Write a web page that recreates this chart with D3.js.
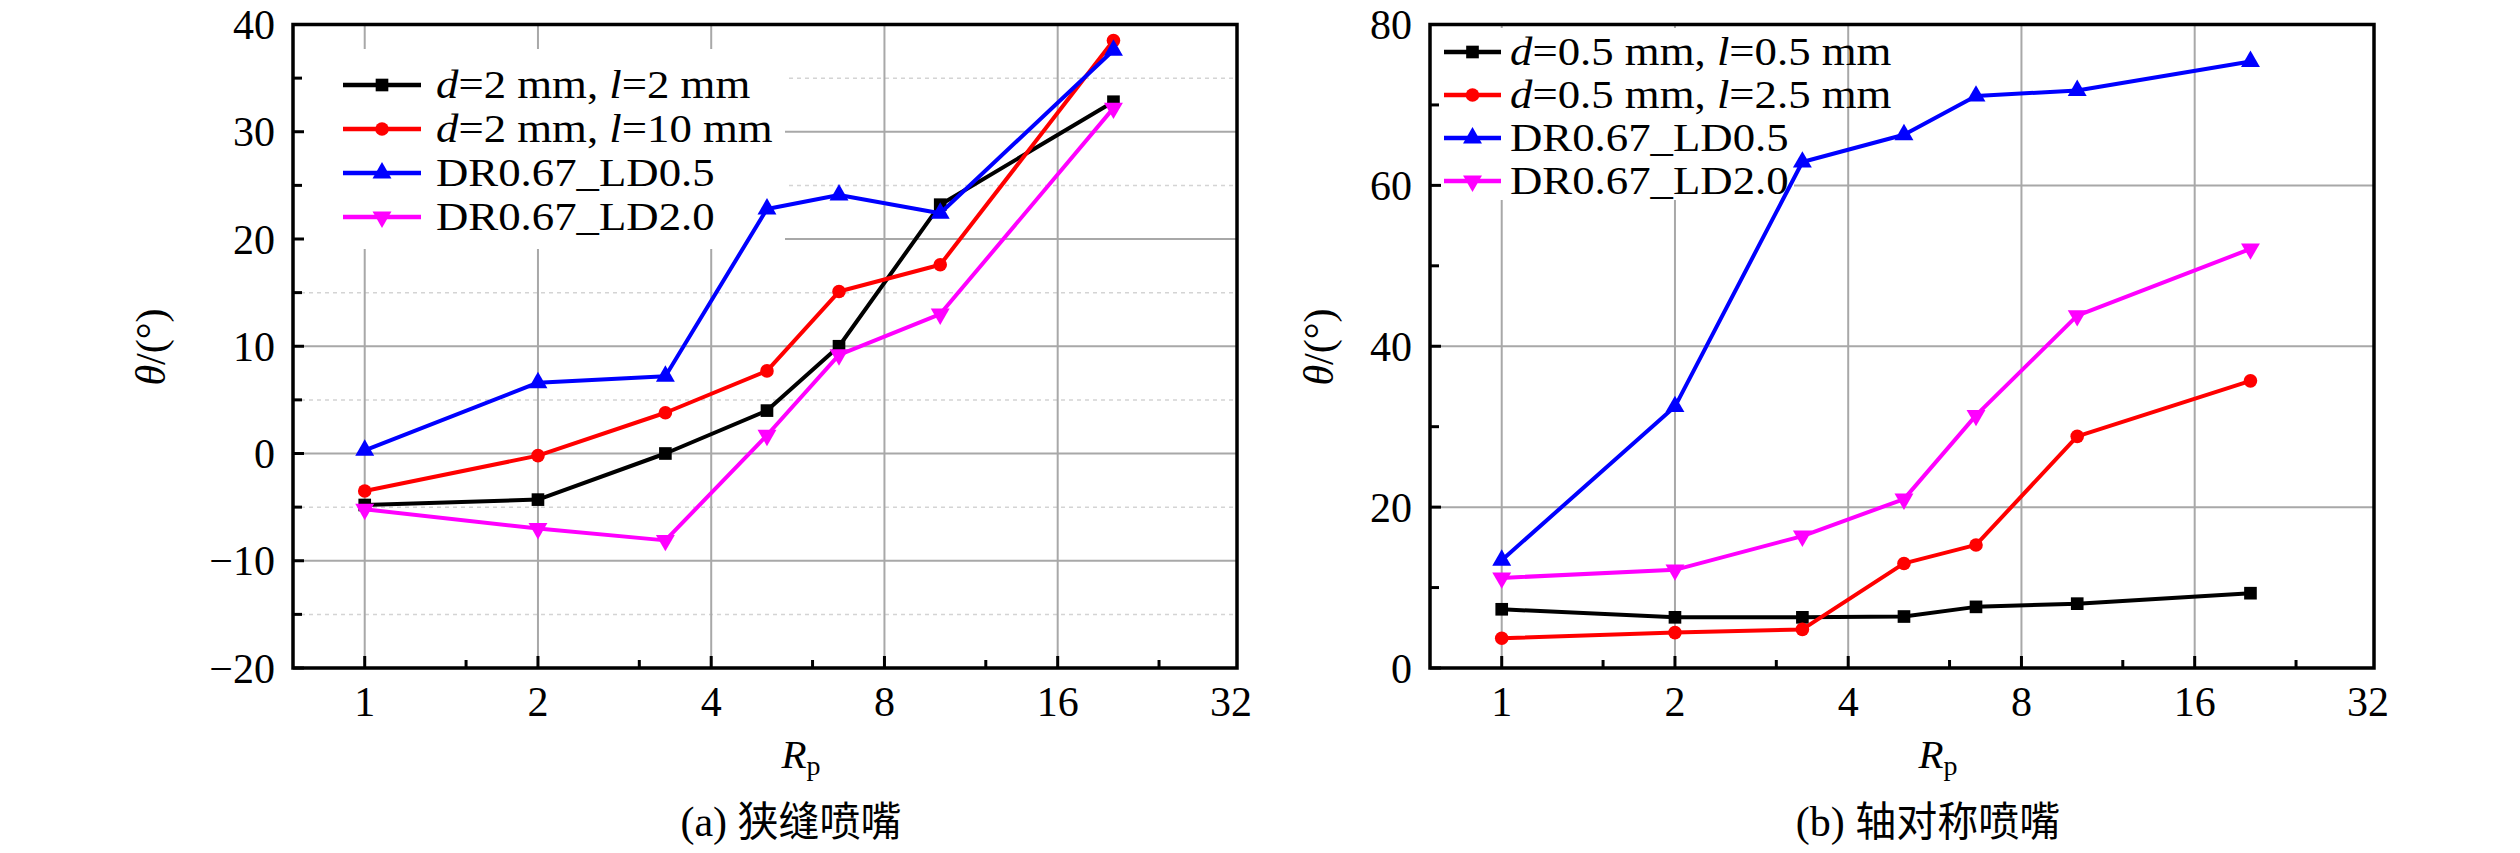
<!DOCTYPE html>
<html>
<head>
<meta charset="utf-8">
<script src="https://cdn.jsdelivr.net/npm/d3@7"></script>
<style>
  body { margin: 0; background: #fff; }
  svg text { font-family: "Liberation Serif", "Times New Roman", serif; fill: #000; }
</style>
</head>
<body>
<svg id="chart" width="2520" height="853"></svg>
<script>
// Rp values shared by both panels
const rpValues = [1, 2, 3.33, 5, 6.67, 10, 20];
const xMajor = [1, 2, 4, 8, 16, 32];
const xMinor = [1.5, 3, 6, 12, 24];

// (a) slit nozzle
const slitD2L2   = [-4.8, -4.3, 0.0, 4.0, 10.0, 23.2, 32.8];
const slitD2L10  = [-3.5, -0.2, 3.8, 7.7, 15.1, 17.6, 38.5];
const slitLD05   = [0.3, 6.6, 7.2, 22.8, 24.1, 22.4, 37.6];
const slitLD20   = [-5.2, -7.0, -8.1, 1.7, 9.2, 13.0, 32.2];
const slitYMajor = [-20, -10, 0, 10, 20, 30, 40];
const slitYMinor = [-15, -5, 5, 15, 25, 35];

// (b) axisymmetric nozzle
const axiD05L05  = [7.3, 6.3, 6.3, 6.4, 7.6, 8.0, 9.3];
const axiD05L25  = [3.7, 4.4, 4.8, 13.0, 15.3, 28.8, 35.7];
const axiLD05    = [13.4, 32.5, 62.9, 66.3, 71.1, 71.8, 75.4];
const axiLD20    = [11.2, 12.2, 16.4, 21.0, 31.4, 43.8, 52.1];
const axiYMajor  = [0, 20, 40, 60, 80];
const axiYMinor  = [10, 30, 50, 70];

const colors  = ["#000000", "#ff0000", "#0000ff", "#ff00ff"];
const symbols = ["square", "circle", "up", "down"];

const svg = d3.select("#chart");

function marker(sel, kind, color) {
  const sym = {
    square: d3.symbol(d3.symbolSquare, 160),
    circle: d3.symbol(d3.symbolCircle, 145),
    up: d3.symbol(d3.symbolTriangle, 155),
    down: d3.symbol(d3.symbolTriangle, 155)
  }[kind];
  sel.append("path")
    .attr("d", sym)
    .attr("fill", color)
    .attr("transform", kind === "down" ? "rotate(180)" : null);
}

function panel(opts) {
  const left = opts.left, right = opts.left + 944;
  const top = 24.5, bottom = 668;

  const x = d3.scaleLog().base(2)
      .domain([Math.pow(2, -0.414), Math.pow(2, 5.035)])
      .range([left, right]);
  const y = d3.scaleLinear().domain(opts.yDomain).range([bottom, top]);

  const g = svg.append("g");

  // grid
  g.selectAll(".gminor").data(opts.gridMinor).join("line")
      .attr("x1", left).attr("x2", right)
      .attr("y1", d => y(d)).attr("y2", d => y(d))
      .attr("stroke", "#d4d4d4").attr("stroke-width", 1.5)
      .attr("stroke-dasharray", "4,4");
  g.selectAll(".gy").data(opts.yMajor.filter(d => d > opts.yDomain[0] && d < opts.yDomain[1])).join("line")
      .attr("x1", left).attr("x2", right)
      .attr("y1", d => y(d)).attr("y2", d => y(d))
      .attr("stroke", "#a8a8a8").attr("stroke-width", 2);
  g.selectAll(".gx").data(xMajor.slice(0, 5)).join("line")
      .attr("x1", d => x(d)).attr("x2", d => x(d))
      .attr("y1", top).attr("y2", bottom)
      .attr("stroke", "#a8a8a8").attr("stroke-width", 2);

  // legend box hides grid behind it
  g.append("rect")
      .attr("x", opts.legend.box[0]).attr("y", opts.legend.box[1])
      .attr("width", opts.legend.box[2]).attr("height", opts.legend.box[3])
      .attr("fill", "#fff");

  // series
  const line = d3.line().x((d, i) => x(rpValues[i])).y(d => y(d));
  opts.series.forEach((s, k) => {
    g.append("path")
        .datum(s)
        .attr("d", line)
        .attr("fill", "none")
        .attr("stroke", colors[k])
        .attr("stroke-width", 4)
        .attr("stroke-linejoin", "round");
    s.forEach((v, i) => {
      const m = g.append("g").attr("transform", `translate(${x(rpValues[i])},${y(v)})`);
      marker(m, symbols[k], colors[k]);
    });
  });

  // legend
  opts.legend.labels.forEach((lab, k) => {
    const ly = opts.legend.rows[k];
    g.append("line")
        .attr("x1", opts.legend.x0).attr("x2", opts.legend.x1)
        .attr("y1", ly).attr("y2", ly)
        .attr("stroke", colors[k]).attr("stroke-width", 4.5);
    const m = g.append("g").attr("transform", `translate(${(opts.legend.x0 + opts.legend.x1) / 2},${ly})`);
    marker(m, symbols[k], colors[k]);
    const t = g.append("text")
        .attr("transform", `translate(${opts.legend.tx},${ly + 13}) scale(1.12,1)`)
        .attr("font-size", 40);
    lab.forEach(part => {
      t.append("tspan").attr("font-style", part[1] ? "italic" : "normal").text(part[0]);
    });
  });

  // frame
  g.append("rect")
      .attr("x", left).attr("y", top)
      .attr("width", right - left).attr("height", bottom - top)
      .attr("fill", "none").attr("stroke", "#000").attr("stroke-width", 3.5);

  // ticks (inside)
  g.selectAll(".xt").data(xMajor.slice(0, 5)).join("line")
      .attr("x1", d => x(d)).attr("x2", d => x(d))
      .attr("y1", bottom).attr("y2", bottom - 12)
      .attr("stroke", "#000").attr("stroke-width", 3);
  g.selectAll(".xm").data(xMinor).join("line")
      .attr("x1", d => x(d)).attr("x2", d => x(d))
      .attr("y1", bottom).attr("y2", bottom - 8)
      .attr("stroke", "#000").attr("stroke-width", 3);
  g.selectAll(".yt").data(opts.yMajor).join("line")
      .attr("x1", left).attr("x2", left + 11)
      .attr("y1", d => y(d)).attr("y2", d => y(d))
      .attr("stroke", "#000").attr("stroke-width", 3);
  g.selectAll(".ym").data(opts.yMinor).join("line")
      .attr("x1", left).attr("x2", left + 9)
      .attr("y1", d => y(d)).attr("y2", d => y(d))
      .attr("stroke", "#000").attr("stroke-width", 3);

  // tick labels
  const fmt = d3.format("d");
  g.selectAll(".xl").data(xMajor).join("text")
      .attr("x", d => x(d)).attr("y", 716)
      .attr("text-anchor", "middle").attr("font-size", 42)
      .text(d => d);
  g.selectAll(".yl").data(opts.yMajor).join("text")
      .attr("x", left - 18).attr("y", d => y(d))
      .attr("dy", "0.35em")
      .attr("text-anchor", "end").attr("font-size", 42)
      .text(d => fmt(d));

  // axis titles
  const yt = g.append("text")
      .attr("transform", `translate(${opts.titleX},347) rotate(-90)`)
      .attr("text-anchor", "middle").attr("font-size", 42);
  yt.append("tspan").attr("font-style", "italic").text("θ");
  yt.append("tspan").text("/(°)");

  const cx = (left + right) / 2 + 36;
  const xt = g.append("text")
      .attr("x", cx).attr("y", 768)
      .attr("text-anchor", "middle").attr("font-size", 41);
  xt.append("tspan").attr("font-style", "italic").text("R");
  xt.append("tspan").attr("font-size", 28).attr("dy", 7).text("p");

  const cap = g.append("text")
      .attr("x", (left + right) / 2 + 26).attr("y", 836)
      .attr("text-anchor", "middle").attr("font-size", 42);
  cap.append("tspan").text(opts.caption[0] + " ");
  cap.append("tspan")
      .attr("font-family", "'Noto Sans CJK SC', sans-serif")
      .attr("font-size", 41)
      .text(opts.caption[1]);
}

panel({
  left: 293,
  yDomain: [-20, 40],
  yMajor: slitYMajor,
  yMinor: slitYMinor,
  gridMinor: slitYMinor,
  series: [slitD2L2, slitD2L10, slitLD05, slitLD20],
  titleX: 165,
  caption: ["(a)", "狭缝喷嘴"],
  legend: {
    box: [300, 49, 485, 200],
    x0: 343, x1: 421, tx: 436,
    rows: [85, 129, 173, 217],
    labels: [
      [["d", true], ["=2 mm, ", false], ["l", true], ["=2 mm", false]],
      [["d", true], ["=2 mm, ", false], ["l", true], ["=10 mm", false]],
      [["DR0.67_LD0.5", false]],
      [["DR0.67_LD2.0", false]]
    ]
  }
});

panel({
  left: 1430,
  yDomain: [0, 80],
  yMajor: axiYMajor,
  yMinor: axiYMinor,
  gridMinor: [],
  series: [axiD05L05, axiD05L25, axiLD05, axiLD20],
  titleX: 1333,
  caption: ["(b)", "轴对称喷嘴"],
  legend: {
    box: [1434, 28, 360, 172],
    x0: 1444, x1: 1501, tx: 1510,
    rows: [52, 95, 138, 181],
    labels: [
      [["d", true], ["=0.5 mm, ", false], ["l", true], ["=0.5 mm", false]],
      [["d", true], ["=0.5 mm, ", false], ["l", true], ["=2.5 mm", false]],
      [["DR0.67_LD0.5", false]],
      [["DR0.67_LD2.0", false]]
    ]
  }
});
</script>
</body>
</html>
